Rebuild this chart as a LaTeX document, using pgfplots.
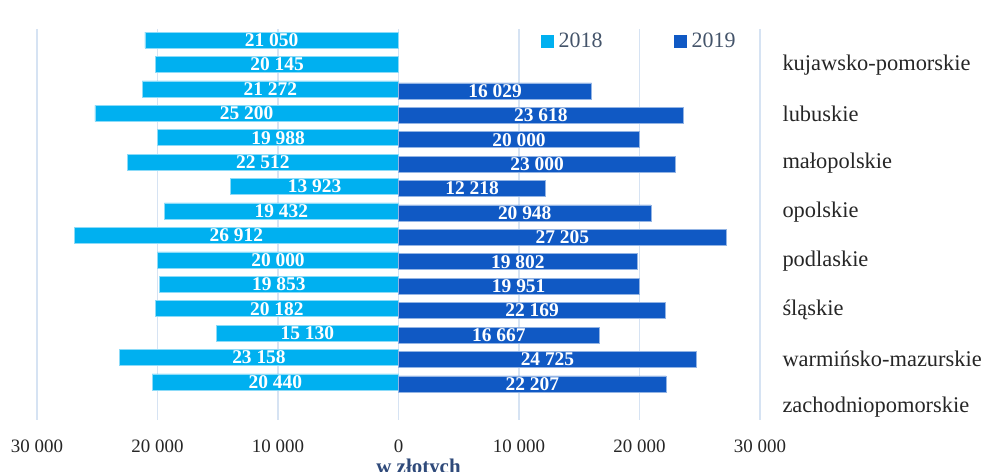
\documentclass[border=0pt]{standalone}
\usepackage{pgfplots}
\pgfplotsset{compat=1.18}
\usepackage{pgfplotstable}
\usepackage{fontspec}
\setmainfont{Liberation Serif}
\definecolor{c18}{HTML}{00B0F0}
\definecolor{c19}{HTML}{1059C4}
\definecolor{gridc}{HTML}{D6E3F3}
\definecolor{legc}{HTML}{44546A}
\definecolor{titc}{HTML}{2F4A7A}
\definecolor{txt}{HTML}{262626}

\pgfplotstableread{
y a
1 21050
2 20145
3 21272
4 25200
5 19988
6 22512
7 13923
8 19432
9 26912
10 20000
11 19853
12 20182
13 15130
14 23158
15 20440
}\tA
\pgfplotstableread{
y b
3 16029
4 23618
5 20000
6 23000
7 12218
8 20948
9 27205
10 19802
11 19951
12 22169
13 16667
14 24725
15 22207
}\tB

\begin{document}
\begin{tikzpicture}
\path[use as bounding box] (0,0) rectangle (1001bp,472bp);
\begin{axis}[
  at={(37bp,52.5bp)}, anchor=south west,
  scale only axis, width=723bp, height=390.7bp,
  xmin=-30000, xmax=30000, ymin=0.5, ymax=16.5, y dir=reverse,
  scaled x ticks=false,
  axis line style={draw=none}, major tick style={draw=none},
  xmajorgrids, grid style={gridc, line width=1.5bp},
  xtick={-30000,-20000,-10000,0,10000,20000,30000},
  xticklabels={30 000,20 000,10 000,0,10 000,20 000,30 000},
  xticklabel style={font=\fontsize{19}{19}\selectfont, text=txt, yshift=-17bp},
  ytick={2,4,...,16},
  yticklabels={kujawsko-pomorskie,lubuskie,małopolskie,opolskie,podlaskie,śląskie,warmińsko-mazurskie,zachodniopomorskie},
  yticklabel pos=right,
  yticklabel style={font=\fontsize{22.5}{22.5}\selectfont, text=txt, anchor=west, xshift=19bp},
  xlabel={w złotych},
  xlabel style={at={(axis description cs:0.5277,0)}, anchor=base, yshift=-54bp, font=\bfseries\fontsize{21}{21}\selectfont, text=titc},
  /pgf/number format/.cd, assume math mode=true, 1000 sep={\ }, fixed, precision=0, /pgfplots/.cd,
  legend style={at={(axis description cs:0.692,0.969)}, anchor=west, draw=none, fill=none,
    font=\fontsize{22}{22}\selectfont, text=legc, legend columns=2,
    /tikz/every even column/.append style={column sep=69bp}},
]
\addlegendimage{legend image code/.code={\fill[c18] (0bp,-6bp) rectangle (12bp,6bp); \path[draw=none] (16bp,0bp);}}
\addlegendentry{2018}
\addlegendimage{legend image code/.code={\fill[c19] (0bp,-6bp) rectangle (12bp,6bp); \path[draw=none] (16bp,0bp);}}
\addlegendentry{2019}
\addplot[forget plot, xbar, fill=c18, draw=c18!45!white, line width=0.6bp, bar width=16bp, bar shift=0pt]
  table[x expr=-\thisrow{a}, y expr=\thisrow{y}-0.04] {\tA};
\addplot[forget plot, xbar, fill=c19, draw=c19!45!white, line width=0.6bp, bar width=16bp, bar shift=0pt]
  table[x=b, y expr=\thisrow{y}+0.04] {\tB};
\addplot[forget plot, only marks, mark=none, point meta=explicit, nodes near coords,
  every node near coord/.style={anchor=center, inner sep=0pt, text=white, font=\bfseries\fontsize{19.5}{19.5}\selectfont}]
  table[x expr=-\thisrow{a}/2, y expr=\thisrow{y}-0.04, meta=a] {\tA};
\addplot[forget plot, only marks, mark=none, point meta=explicit, nodes near coords,
  every node near coord/.style={anchor=center, inner sep=0pt, text=white, font=\bfseries\fontsize{19.5}{19.5}\selectfont}]
  table[x expr=\thisrow{b}/2, y expr=\thisrow{y}+0.04, meta=b] {\tB};
\end{axis}
\end{tikzpicture}
\end{document}
